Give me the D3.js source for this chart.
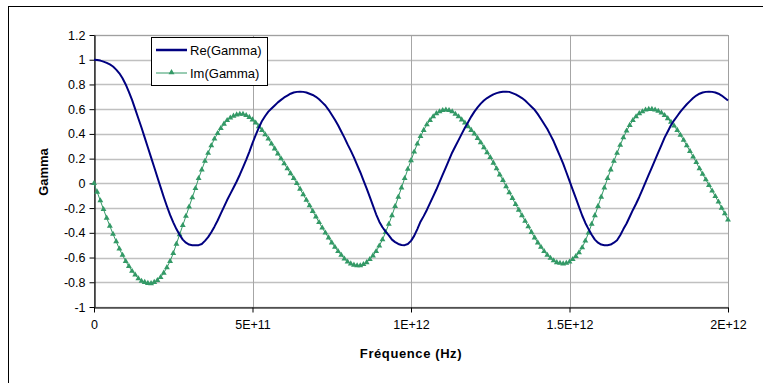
<!DOCTYPE html>
<html>
<head>
<meta charset="utf-8">
<script src="https://cdn.jsdelivr.net/npm/d3@7/dist/d3.min.js"></script>
<style>
  html, body { margin: 0; padding: 0; background: #fff; }
  svg { display: block; }
  text { font-family: "Liberation Sans", Arial, sans-serif; }
</style>
</head>
<body>
<svg id="chart" width="763" height="383"></svg>
<script>
// Sampling grid: one point every 1E+10 Hz from 0 to 2E+12 Hz
const freqStepHz = 1e10;

// Real part of the reflection coefficient
const reGamma = [
  1.000, 0.998, 0.993, 0.985, 0.975, 0.962, 0.945, 0.920, 0.890, 0.850, 0.800,
  0.740, 0.675, 0.600, 0.525, 0.450, 0.370, 0.290, 0.210, 0.130, 0.050,
  -0.030, -0.110, -0.185, -0.255, -0.315, -0.370, -0.415, -0.455, -0.480, -0.495,
  -0.500, -0.500, -0.500, -0.490, -0.465, -0.435, -0.395, -0.350, -0.300, -0.245,
  -0.190, -0.135, -0.085, -0.035, 0.015, 0.070, 0.130, 0.190, 0.255, 0.325,
  0.390, 0.450, 0.505, 0.545, 0.580, 0.605, 0.630, 0.655, 0.675, 0.695,
  0.710, 0.725, 0.735, 0.740, 0.742, 0.740, 0.735, 0.725, 0.715, 0.700,
  0.680, 0.655, 0.630, 0.595, 0.555, 0.515, 0.470, 0.420, 0.370, 0.315,
  0.265, 0.210, 0.150, 0.090, 0.025, -0.040, -0.110, -0.180, -0.250, -0.310,
  -0.355, -0.390, -0.420, -0.455, -0.475, -0.490, -0.498, -0.500, -0.490, -0.465,
  -0.425, -0.370, -0.310, -0.265, -0.215, -0.160, -0.105, -0.050, 0.010, 0.070,
  0.130, 0.190, 0.250, 0.300, 0.350, 0.400, 0.450, 0.495, 0.540, 0.580,
  0.615, 0.645, 0.670, 0.690, 0.705, 0.720, 0.730, 0.737, 0.741, 0.742,
  0.740, 0.730, 0.720, 0.705, 0.690, 0.670, 0.645, 0.620, 0.595, 0.560,
  0.520, 0.480, 0.440, 0.390, 0.340, 0.280, 0.220, 0.160, 0.090, 0.020,
  -0.050, -0.120, -0.190, -0.260, -0.320, -0.370, -0.415, -0.455, -0.480, -0.495,
  -0.500, -0.500, -0.495, -0.480, -0.460, -0.420, -0.370, -0.325, -0.270, -0.215,
  -0.165, -0.110, -0.050, 0.010, 0.070, 0.130, 0.190, 0.250, 0.310, 0.370,
  0.420, 0.470, 0.510, 0.545, 0.580, 0.610, 0.640, 0.665, 0.690, 0.710,
  0.725, 0.735, 0.740, 0.742, 0.740, 0.735, 0.725, 0.710, 0.690, 0.670
];

// Imaginary part of the reflection coefficient
const imGamma = [
  0.000, -0.070, -0.140, -0.210, -0.280, -0.345, -0.410, -0.470, -0.530, -0.580, -0.630,
  -0.670, -0.710, -0.740, -0.770, -0.790, -0.800, -0.808, -0.810, -0.800, -0.785,
  -0.760, -0.725, -0.680, -0.630, -0.565, -0.490, -0.415, -0.340, -0.265, -0.190,
  -0.115, -0.040, 0.040, 0.110, 0.180, 0.245, 0.305, 0.360, 0.405, 0.445,
  0.480, 0.510, 0.530, 0.545, 0.555, 0.560, 0.560, 0.550, 0.535, 0.515,
  0.490, 0.460, 0.430, 0.395, 0.360, 0.320, 0.280, 0.240, 0.200, 0.160,
  0.120, 0.080, 0.040, 0.000, -0.045, -0.090, -0.135, -0.180, -0.225, -0.270,
  -0.315, -0.360, -0.400, -0.440, -0.480, -0.515, -0.550, -0.580, -0.610, -0.635,
  -0.650, -0.660, -0.665, -0.665, -0.655, -0.640, -0.615, -0.585, -0.550, -0.505,
  -0.455, -0.395, -0.330, -0.260, -0.185, -0.110, -0.035, 0.040, 0.115, 0.185,
  0.255, 0.320, 0.380, 0.430, 0.475, 0.510, 0.540, 0.565, 0.580, 0.590,
  0.595, 0.590, 0.580, 0.560, 0.540, 0.515, 0.490, 0.460, 0.430, 0.400,
  0.365, 0.330, 0.290, 0.250, 0.210, 0.165, 0.120, 0.070, 0.025, -0.025,
  -0.075, -0.120, -0.170, -0.215, -0.260, -0.305, -0.350, -0.395, -0.440, -0.480,
  -0.515, -0.550, -0.580, -0.605, -0.625, -0.640, -0.645, -0.650, -0.645, -0.635,
  -0.615, -0.590, -0.560, -0.520, -0.465, -0.400, -0.330, -0.260, -0.185, -0.110,
  -0.035, 0.040, 0.110, 0.180, 0.245, 0.310, 0.370, 0.425, 0.470, 0.510,
  0.540, 0.565, 0.580, 0.595, 0.600, 0.600, 0.595, 0.585, 0.570, 0.550,
  0.525, 0.495, 0.465, 0.430, 0.390, 0.350, 0.305, 0.260, 0.215, 0.170,
  0.120, 0.075, 0.030, -0.015, -0.060, -0.105, -0.150, -0.200, -0.245, -0.295
];

const seriesNames = ["Re(Gamma)", "Im(Gamma)"];

const yTickValues = [-1, -0.8, -0.6, -0.4, -0.2, 0, 0.2, 0.4, 0.6, 0.8, 1, 1.2];
const yTickLabels = ["-1", "-0.8", "-0.6", "-0.4", "-0.2", "0", "0.2", "0.4", "0.6", "0.8", "1", "1.2"];
const xTickValues = [0, 5e11, 1e12, 1.5e12, 2e12];
const xTickLabels = ["0", "5E+11", "1E+12", "1.5E+12", "2E+12"];

const xTitle = "Fréquence (Hz)";
const yTitle = "Gamma";

// ---- layout ----
const plot = { left: 94, right: 728, top: 35, bottom: 307 };
const reColor = "#000080";
const imColor = "#339966";
const fontFamily = '"Liberation Sans", Arial, sans-serif';

const svg = d3.select("#chart");

// Chart area frame (left and top edges fall inside the view)
svg.append("rect")
  .attr("x", 8.5).attr("y", 6.5)
  .attr("width", 820).attr("height", 420)
  .attr("fill", "#fff").attr("stroke", "#000").attr("stroke-width", 1);

const x = d3.scaleLinear().domain([0, 2e12]).range([plot.left, plot.right]);
const y = d3.scaleLinear().domain([-1, 1.2]).range([plot.bottom, plot.top]);

// Horizontal gridlines
svg.append("g")
  .selectAll("line")
  .data(yTickValues)
  .join("line")
  .attr("x1", plot.left).attr("x2", plot.right)
  .attr("y1", d => Math.round(y(d)) + 0.5).attr("y2", d => Math.round(y(d)) + 0.5)
  .attr("stroke", "#c0c0c0").attr("stroke-width", 1.5);

// Vertical gridlines
svg.append("g")
  .selectAll("line")
  .data(xTickValues)
  .join("line")
  .attr("x1", d => Math.round(x(d)) + 0.5).attr("x2", d => Math.round(x(d)) + 0.5)
  .attr("y1", plot.top).attr("y2", plot.bottom)
  .attr("stroke", "#a6a6a6").attr("stroke-width", 1);

// Plot area border
svg.append("rect")
  .attr("x", plot.left + 0.5).attr("y", plot.top + 0.5)
  .attr("width", plot.right - plot.left).attr("height", plot.bottom - plot.top)
  .attr("fill", "none").attr("stroke", "#a0a0a0").attr("stroke-width", 1);

// Axes
const yAxis = d3.axisLeft(y)
  .tickValues(yTickValues)
  .tickFormat((d, i) => yTickLabels[i])
  .tickSize(5).tickSizeOuter(0).tickPadding(4);
const gy = svg.append("g")
  .attr("transform", `translate(${plot.left + 0.5},0)`)
  .call(yAxis);

const xAxis = d3.axisBottom(x)
  .tickValues(xTickValues)
  .tickFormat((d, i) => xTickLabels[i])
  .tickSize(5).tickSizeOuter(0).tickPadding(8);
const gx = svg.append("g")
  .attr("transform", `translate(0,${plot.bottom + 0.5})`)
  .call(xAxis);

[gx, gy].forEach(g => {
  g.select(".domain").attr("stroke", "#000").attr("stroke-width", 1.2);
  g.selectAll(".tick line").attr("stroke", "#000");
  g.selectAll(".tick text")
    .attr("fill", "#000")
    .style("font-family", fontFamily)
    .style("font-size", "12.5px");
});

// Axis titles
svg.append("text")
  .attr("x", (plot.left + plot.right) / 2).attr("y", 357.5)
  .attr("text-anchor", "middle")
  .style("font-size", "13px").style("font-weight", "bold")
  .style("letter-spacing", "0.6px")
  .text(xTitle);

svg.append("text")
  .attr("transform", "translate(47.5,172) rotate(-90)")
  .attr("text-anchor", "middle")
  .style("font-size", "13px").style("font-weight", "bold")
  .text(yTitle);

// Series data
const reData = reGamma.map((v, i) => ({ f: i * freqStepHz, v }));
const imData = imGamma.map((v, i) => ({ f: i * freqStepHz, v }));

const line = d3.line().x(d => x(d.f)).y(d => y(d.v));

svg.append("path")
  .datum(imData)
  .attr("d", line)
  .attr("fill", "none")
  .attr("stroke", imColor)
  .attr("stroke-width", 1);

const tri = d3.symbol().type(d3.symbolTriangle).size(15);
svg.append("g")
  .selectAll("path")
  .data(imData)
  .join("path")
  .attr("d", tri)
  .attr("transform", d => `translate(${x(d.f)},${y(d.v)})`)
  .attr("fill", imColor);

svg.append("path")
  .datum(reData)
  .attr("d", line)
  .attr("fill", "none")
  .attr("stroke", reColor)
  .attr("stroke-width", 2)
  .attr("stroke-linejoin", "round");

// Legend
const legend = svg.append("g");
legend.append("rect")
  .attr("x", 151.5).attr("y", 37.5)
  .attr("width", 116).attr("height", 48)
  .attr("fill", "#fff").attr("stroke", "#000").attr("stroke-width", 1);

legend.append("line")
  .attr("x1", 156).attr("x2", 187).attr("y1", 50).attr("y2", 50)
  .attr("stroke", reColor).attr("stroke-width", 2.5);
legend.append("line")
  .attr("x1", 156).attr("x2", 187).attr("y1", 73).attr("y2", 73)
  .attr("stroke", imColor).attr("stroke-width", 1);
legend.append("path")
  .attr("d", tri)
  .attr("transform", "translate(171.5,72.5)")
  .attr("fill", imColor);

legend.selectAll("text.lbl")
  .data(seriesNames)
  .join("text")
  .attr("class", "lbl")
  .attr("x", 190)
  .attr("y", (d, i) => 50 + i * 23)
  .attr("dy", "0.35em")
  .style("font-size", "13px")
  .text(d => d);
</script>
</body>
</html>
